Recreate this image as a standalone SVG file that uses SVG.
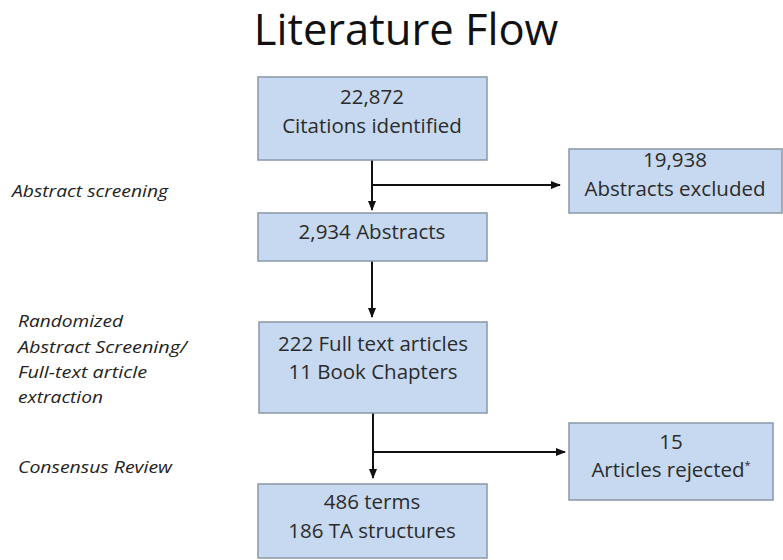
<svg xmlns="http://www.w3.org/2000/svg" width="783" height="560" viewBox="0 0 783 560">
<style>
.box{fill:#c6d9f0;stroke:#8a97a8;stroke-width:1.5}
.t{font-family:"Open Sans","Liberation Sans",sans-serif;font-size:20.5px;fill:#2b2b2b;text-anchor:middle}
.lab{font-family:"Open Sans","Liberation Sans",sans-serif;font-size:17px;font-style:italic;fill:#222}
.ln{stroke:#111;stroke-width:2;fill:none}
.title{font-family:"Open Sans","Liberation Sans",sans-serif;font-size:43.5px;fill:#111;text-anchor:middle}
</style>
<defs>
<marker id="ah" markerWidth="10" markerHeight="10" refX="9" refY="5" orient="auto" markerUnits="userSpaceOnUse">
<path d="M0,1 L10,5 L0,9 Z" fill="#111"/>
</marker>
</defs>
<rect width="783" height="560" fill="#fff"/>
<text class="title" x="406" y="45">Literature Flow</text>
<g id="labels">
<text class="lab" x="12" y="197" textLength="156" lengthAdjust="spacingAndGlyphs">Abstract screening</text>
<text class="lab" x="18" y="327" textLength="105" lengthAdjust="spacingAndGlyphs">Randomized</text>
<text class="lab" x="18" y="353" textLength="169" lengthAdjust="spacingAndGlyphs">Abstract Screening/</text>
<text class="lab" x="18" y="378" textLength="129" lengthAdjust="spacingAndGlyphs">Full-text article</text>
<text class="lab" x="18" y="403" textLength="85" lengthAdjust="spacingAndGlyphs">extraction</text>
<text class="lab" x="18" y="473" textLength="154" lengthAdjust="spacingAndGlyphs">Consensus Review</text>
</g>
<g id="connectors">
<path class="ln" d="M372,160 V210" marker-end="url(#ah)"/>
<path class="ln" d="M372,185 H560" marker-end="url(#ah)"/>
<path class="ln" d="M372,261 V317" marker-end="url(#ah)"/>
<path class="ln" d="M373,413 V478" marker-end="url(#ah)"/>
<path class="ln" d="M373,452 H565" marker-end="url(#ah)"/>
</g>
<g id="n1"><rect class="box" x="258" y="77" width="229" height="83"/>
<text class="t" x="372" y="104">22,872</text><text class="t" x="372" y="133">Citations identified</text></g>
<g id="n2"><rect class="box" x="569" y="149" width="213" height="64"/>
<text class="t" x="675" y="167">19,938</text><text class="t" x="675" y="196">Abstracts excluded</text></g>
<g id="n3"><rect class="box" x="258" y="213" width="229" height="48"/>
<text class="t" x="372" y="239">2,934 Abstracts</text></g>
<g id="n4"><rect class="box" x="259" y="322" width="228" height="91"/>
<text class="t" x="373" y="351">222 Full text articles</text><text class="t" x="373" y="379">11 Book Chapters</text></g>
<g id="n5"><rect class="box" x="258" y="484" width="229" height="74"/>
<text class="t" x="372" y="509">486 terms</text><text class="t" x="372" y="538">186 TA structures</text></g>
<g id="n6"><rect class="box" x="569" y="423" width="204" height="77"/>
<text class="t" x="671" y="449">15</text><text class="t" x="671" y="477">Articles rejected<tspan font-size="11" dy="-8">*</tspan></text></g>
</svg>
